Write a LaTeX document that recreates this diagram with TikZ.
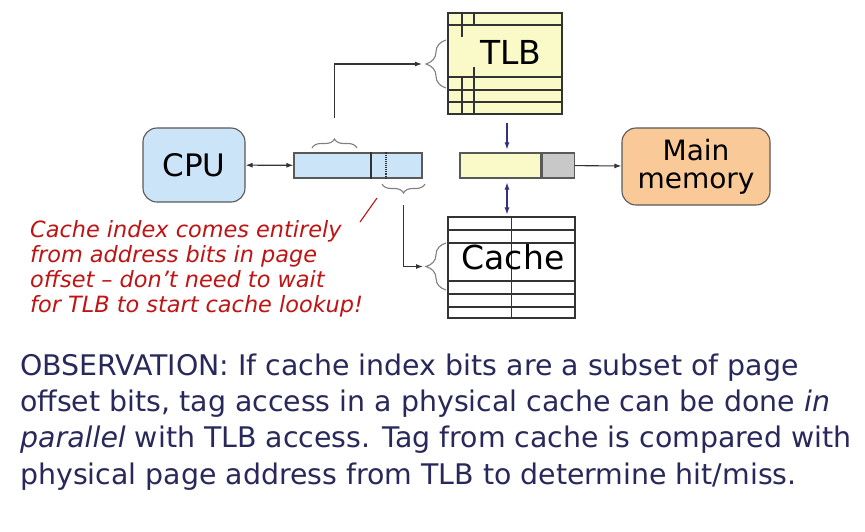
\documentclass[tikz,border=0pt]{standalone}
\usepackage{fontspec}
\setmainfont{DejaVu Sans}
\usetikzlibrary{arrows.meta, positioning, decorations.pathreplacing}

\definecolor{cpublue}{RGB}{204,228,248}
\definecolor{tlbyellow}{RGB}{250,250,200}
\definecolor{ppngray}{RGB}{200,200,200}
\definecolor{memorange}{RGB}{249,201,152}
\definecolor{notered}{RGB}{190,20,20}
\definecolor{obsnavy}{RGB}{40,40,90}
\definecolor{busnavy}{RGB}{50,50,130}

\begin{document}
\begin{tikzpicture}[x=1pt, y=-1pt,
    box/.style={draw=gray!70!black, line width=1.1pt, inner sep=0pt},
    unit/.style={box, rounded corners=14pt, align=center},
    field/.style={box, minimum height=25pt},
    tablebox/.style={box, draw=black!80},
    grid/.style={draw=black!80, line width=1.1pt},
    conn/.style={-{Latex[length=7pt,width=5pt]}, line width=1.1pt, draw=black!80},
    bus/.style={conn, draw=busnavy},
    brc/.style={decorate, decoration={brace, amplitude=#1}, draw=gray, line width=1.1pt},
    big/.style={font=\fontsize{33}{35}\selectfont}
]
\fill[white] (0,0) rectangle (865,531);
\useasboundingbox (0,0) rectangle (865,531);

% processor and memory
\node[unit, fill=cpublue, minimum width=102pt, minimum height=74pt,
      font=\fontsize{31}{33}\selectfont] (cpu) at (194,165) {CPU};
\node[unit, fill=memorange, minimum width=148pt, minimum height=77pt,
      font=\fontsize{28}{28}\selectfont] (mem) at (696,166.5) {Main\\memory};

% virtual address
\node[field, fill=cpublue, minimum width=128pt] (va) at (358,165.5) {};
\draw[grid] ([xshift=13pt]va.north) -- ([xshift=13pt]va.south);
\draw[grid, densely dotted] ([xshift=28pt]va.north) -- ([xshift=28pt]va.south);

% physical address
\node[field, fill=tlbyellow, minimum width=81pt] (pa) at (500.5,165.5) {};
\node[field, fill=ppngray, minimum width=32pt, right=0pt of pa] (po) {};

% TLB
\node[tablebox, fill=tlbyellow, minimum width=114pt, minimum height=101pt] (tlb) at (505,63.5) {};
\foreach \y in {25,77,90,102}
  \draw[grid] (tlb.west |- 0,\y) -- (tlb.east |- 0,\y);
\draw[grid] (462,13) -- (462,37);
\draw[grid] (474,13) -- (474,25);
\draw[grid] (462,77) -- (462,114);
\draw[grid] (474,67) -- (474,114);
\node[big] (tlbname) at (511,52) {TLB};

% cache
\node[tablebox, minimum width=127pt, minimum height=101pt] (cache) at (511.5,267.5) {};
\foreach \y in {230,243,281,294,307}
  \draw[grid] (cache.west |- 0,\y) -- (cache.east |- 0,\y);
\draw[grid] (cache.north) -- (cache.south);
\node[big] (cachename) at (513,257) {Cache};

% braces
\draw[brc=20pt] (446,88) -- (446,40);
\draw[brc=9pt] (312,148) -- (357,148);
\draw[brc=9pt] (425,184) -- (382,184);
\draw[brc=20pt] (446,290) -- (446,243);
\coordinate (tlbin) at (425,64);
\coordinate (vtag) at (334.5,138);
\coordinate (voff) at (403.5,193);
\coordinate (cachein) at (425,266.5);

% connectors
\draw[conn, {Latex[length=7pt,width=5pt]}-{Latex[length=7pt,width=5pt]}] (cpu) -- (va);
\draw[conn] (po) -- (mem);
\draw[conn, shorten <=20pt, shorten >=3pt] (vtag) |- (tlbin);
\draw[conn, shorten <=12pt, shorten >=2pt] (voff) |- (cachein);
\draw[bus, shorten <=8pt, shorten >=3pt] ([xshift=2pt]tlb.south) -- ([xshift=2pt]tlb.south |- pa.north);
\draw[bus, {Latex[length=7pt,width=5pt]}-{Latex[length=7pt,width=5pt]}, shorten <=4pt, shorten >=2pt]
  ([xshift=2pt]tlb.south |- pa.south) -- ([xshift=2pt]tlb.south |- cache.north);

% note
\coordinate (slashlo) at (360,222);
\coordinate (slashhi) at (377,198);
\draw[notered, line width=1.1pt] (slashlo) -- (slashhi);
\node[anchor=base west, align=left, inner sep=0pt, text=notered,
      font=\itshape\fontsize{22.4}{25}\selectfont] (note) at (30,312)
  {Cache index comes entirely\\from address bits in page\\offset – don’t need to wait\\for TLB to start cache lookup!};

% observation
\node[anchor=base west, align=left, inner sep=0pt, text=obsnavy,
      font=\fontsize{28.4}{36.3}\selectfont] (obs) at (20,484)
  {OBSERVATION: If cache index bits are a subset of page\\
   offset bits, tag access in a physical cache can be done \textit{in}\\
   \textit{parallel} with TLB access. Tag from cache is compared with\\
   physical page address from TLB to determine hit/miss.};
\end{tikzpicture}
\end{document}
